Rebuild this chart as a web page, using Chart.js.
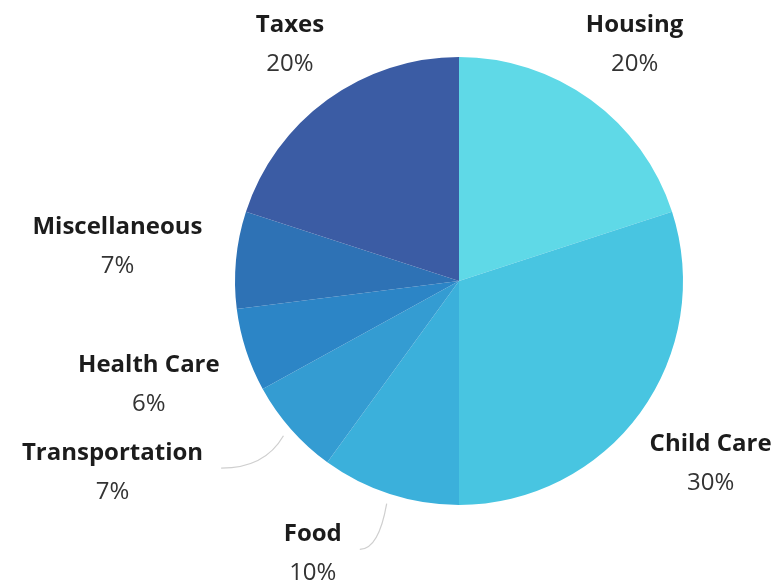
<!DOCTYPE html>
<html lang="en">
<head>
    <meta charset="UTF-8">
    <title>Budget Breakdown</title>
    <script src="https://cdn.jsdelivr.net/npm/chart.js"></script>
    <style>
        html, body { margin: 0; padding: 0; background: #fff; }
        #wrap { width: 778px; height: 582px; }
    </style>
</head>
<body>
    <div id="wrap"><canvas id="budgetPie"></canvas></div>

    <script>
        // Spending categories, clockwise from the top
        let categories = ["Housing", "Child Care", "Food", "Transportation", "Health Care", "Miscellaneous", "Taxes"];
        let shares = [20, 30, 10, 7, 6, 7, 20];
        let sliceColors = ["#5fd9e7", "#48c5e1", "#3bb0db", "#349cd2", "#2c85c6", "#2e72b5", "#3b5ca4"];

        // per-label tweaks so the outside labels don't crowd each other
        const labelNudge = [[0, -10], [0, 18], [-60, 6], [-91, 6], [-5, 17], [-8, -8], [-2, -10]];
        const leaderLines = { 2: true, 3: true };

        const outsideLabels = {
            id: "outsideLabels",
            afterDatasetsDraw(chart) {
                const ctx = chart.ctx;
                const meta = chart.getDatasetMeta(0);
                ctx.save();
                meta.data.forEach((arc, i) => {
                    const mid = (arc.startAngle + arc.endAngle) / 2;
                    const cos = Math.cos(mid), sin = Math.sin(mid);
                    const r = arc.outerRadius;
                    const title = categories[i];
                    const pct = shares[i] + "%";

                    ctx.font = "bold 24px 'Open Sans', sans-serif";
                    const w = ctx.measureText(title).width;
                    const hw = w / 2, hh = 30;
                    let cx = arc.x + (r + 26) * cos + hw * cos + labelNudge[i][0];
                    let cy = arc.y + (r + 26) * sin + hh * sin + labelNudge[i][1];

                    ctx.fillStyle = "#1c1c1c";
                    ctx.textAlign = "center";
                    ctx.textBaseline = "middle";
                    ctx.fillText(title, cx, cy - 19);
                    ctx.font = "24px 'Open Sans', sans-serif";
                    ctx.fillStyle = "#333";
                    ctx.fillText(pct, cx, cy + 20);

                    if (leaderLines[i]) {
                        const sx = arc.x + (r + 10) * cos;
                        const sy = arc.y + (r + 10) * sin;
                        const ex = cx + hw + 18;
                        const ey = cy - 4;
                        ctx.beginPath();
                        ctx.moveTo(sx, sy);
                        ctx.quadraticCurveTo(sx - (sx - ex) * 0.3, ey, ex, ey);
                        ctx.strokeStyle = "#cfcfcf";
                        ctx.lineWidth = 1.2;
                        ctx.stroke();
                    }
                });
                ctx.restore();
            }
        };

        new Chart(document.getElementById("budgetPie"), {
            type: "pie",
            data: {
                labels: categories,
                datasets: [{
                    data: shares,
                    backgroundColor: sliceColors,
                    borderWidth: 0
                }]
            },
            options: {
                responsive: true,
                maintainAspectRatio: false,
                animation: false,
                layout: { padding: { left: 235, right: 95, top: 57, bottom: 77 } },
                plugins: {
                    legend: { display: false },
                    tooltip: { enabled: false }
                }
            },
            plugins: [outsideLabels]
        });
    </script>
</body>
</html>
